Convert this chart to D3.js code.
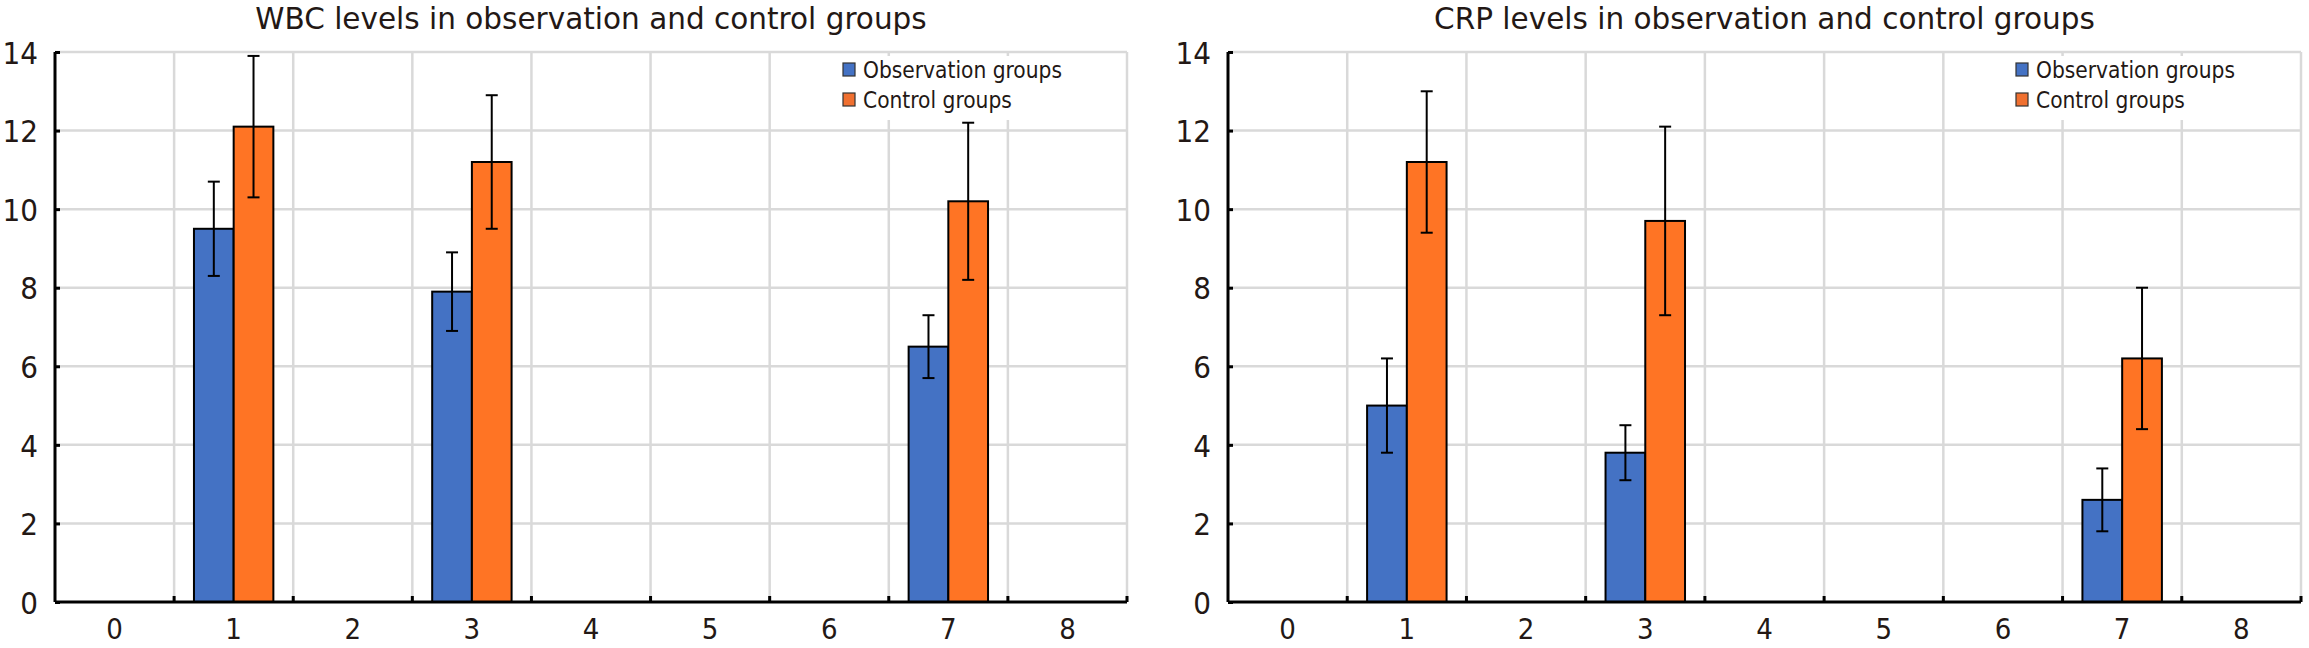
<!DOCTYPE html>
<html>
<head>
<meta charset="utf-8">
<script src="https://cdn.jsdelivr.net/npm/d3@7"></script>
<style>
  html, body { margin: 0; padding: 0; background: #fff; }
  svg text { font-family: 'DejaVu Sans', sans-serif; fill: #231815; }
  svg .cond, svg .tick text { font-family: 'DejaVu Sans Condensed', 'DejaVu Sans', sans-serif; font-stretch: condensed; }
</style>
</head>
<body>
<svg id="chart" width="2309" height="648"></svg>
<script>
// ---- data ----
const categories = [0, 1, 2, 3, 4, 5, 6, 7, 8];
const dataCategories = [1, 3, 7];
const seriesNames = ["Observation groups", "Control groups"];
const yTicks = [0, 2, 4, 6, 8, 10, 12, 14];

const wbcTitle = "WBC levels in observation and control groups";
const wbcObsMean = [9.5, 7.9, 6.5];
const wbcObsErr = [1.2, 1.0, 0.8];
const wbcCtrlMean = [12.1, 11.2, 10.2];
const wbcCtrlErr = [1.8, 1.7, 2.0];

const crpTitle = "CRP levels in observation and control groups";
const crpObsMean = [5.0, 3.8, 2.6];
const crpObsErr = [1.2, 0.7, 0.8];
const crpCtrlMean = [11.2, 9.7, 6.2];
const crpCtrlErr = [1.8, 2.4, 1.8];

// ---- drawing ----
const colors = ["#4472c4", "#ff7424"];
const legendColors = ["#4472c4", "#f07030"];
const svg = d3.select("#chart");

function drawChart(left, right, title, obsMean, obsErr, ctrlMean, ctrlErr) {
  const top = 52, bottom = 602;
  const g = svg.append("g");
  const x = d3.scaleBand().domain(categories).range([left, right]).paddingInner(0).paddingOuter(0);
  const y = d3.scaleLinear().domain([0, 14]).range([bottom, top]);
  const xs = d3.scaleBand().domain(seriesNames).range([0, x.bandwidth()]).paddingInner(0).paddingOuter(0.5);

  // gridlines
  const grid = g.append("g").attr("stroke", "#d9d9d9").attr("stroke-width", 2.5);
  yTicks.filter(t => t > 0).forEach(t => {
    grid.append("line").attr("x1", left).attr("x2", right).attr("y1", y(t)).attr("y2", y(t));
  });
  categories.forEach(c => {
    const xx = x(c) + x.bandwidth();
    grid.append("line").attr("x1", xx).attr("x2", xx).attr("y1", top).attr("y2", bottom);
  });

  // legend background (hides gridlines)
  const lx = left + 788;
  g.append("rect").attr("x", lx - 4).attr("y", top + 4).attr("width", 240).attr("height", 64).attr("fill", "#fff");

  // bars
  const rows = [];
  dataCategories.forEach((c, i) => {
    rows.push({c, s: seriesNames[0], v: obsMean[i], e: obsErr[i], col: colors[0]});
    rows.push({c, s: seriesNames[1], v: ctrlMean[i], e: ctrlErr[i], col: colors[1]});
  });
  g.append("g").selectAll("rect").data(rows).join("rect")
    .attr("x", d => x(d.c) + xs(d.s))
    .attr("width", xs.bandwidth())
    .attr("y", d => y(d.v))
    .attr("height", d => y(0) - y(d.v))
    .attr("fill", d => d.col)
    .attr("stroke", "#000").attr("stroke-width", 2);

  // error bars
  const eb = g.append("g").attr("stroke", "#000").attr("stroke-width", 2);
  rows.forEach(d => {
    const cx = x(d.c) + xs(d.s) + xs.bandwidth() / 2;
    eb.append("line").attr("x1", cx).attr("x2", cx).attr("y1", y(d.v + d.e)).attr("y2", y(d.v - d.e));
    eb.append("line").attr("x1", cx - 6).attr("x2", cx + 6).attr("y1", y(d.v + d.e)).attr("y2", y(d.v + d.e));
    eb.append("line").attr("x1", cx - 6).attr("x2", cx + 6).attr("y1", y(d.v - d.e)).attr("y2", y(d.v - d.e));
  });

  // y axis
  const yAxis = g.append("g").attr("transform", `translate(${left},0)`)
    .call(d3.axisLeft(y).tickValues(yTicks).tickSize(-5).tickPadding(17).tickFormat(d3.format("d")));
  yAxis.select(".domain").attr("stroke", "#000").attr("stroke-width", 3).attr("d", `M0,${top}V${bottom}`);
  yAxis.selectAll(".tick line").attr("stroke", "#000").attr("stroke-width", 3);
  yAxis.selectAll(".tick text").attr("font-size", 31).attr("dy", "0.36em");

  // x axis
  const xAxis = g.append("g").attr("transform", `translate(0,${bottom})`)
    .call(d3.axisBottom(x).tickSize(0).tickPadding(16));
  xAxis.select(".domain").attr("stroke", "#000").attr("stroke-width", 3).attr("d", `M${left},0H${right}`);
  xAxis.selectAll(".tick text").attr("font-size", 29).attr("dy", "0.71em");
  const xt = g.append("g").attr("stroke", "#000").attr("stroke-width", 3);
  categories.forEach(c => {
    const xx = x(c) + x.bandwidth();
    xt.append("line").attr("x1", xx).attr("x2", xx).attr("y1", bottom).attr("y2", bottom - 6);
  });

  // title
  g.append("text").attr("x", (left + right) / 2).attr("y", 29).attr("text-anchor", "middle")
    .attr("font-size", 29.5).text(title);

  // legend
  seriesNames.forEach((s, i) => {
    const ly = 70 + i * 30;
    g.append("rect").attr("x", lx).attr("y", ly - 7).attr("width", 12).attr("height", 13)
      .attr("fill", legendColors[i]).attr("stroke", "#333").attr("stroke-width", 1.2);
    g.append("text").attr("class", "cond").attr("x", lx + 20).attr("y", ly).attr("dy", "0.35em")
      .attr("font-size", 22.5).text(s);
  });
}

drawChart(55, 1127, wbcTitle, wbcObsMean, wbcObsErr, wbcCtrlMean, wbcCtrlErr);
drawChart(1228, 2301, crpTitle, crpObsMean, crpObsErr, crpCtrlMean, crpCtrlErr);
</script>
</body>
</html>
